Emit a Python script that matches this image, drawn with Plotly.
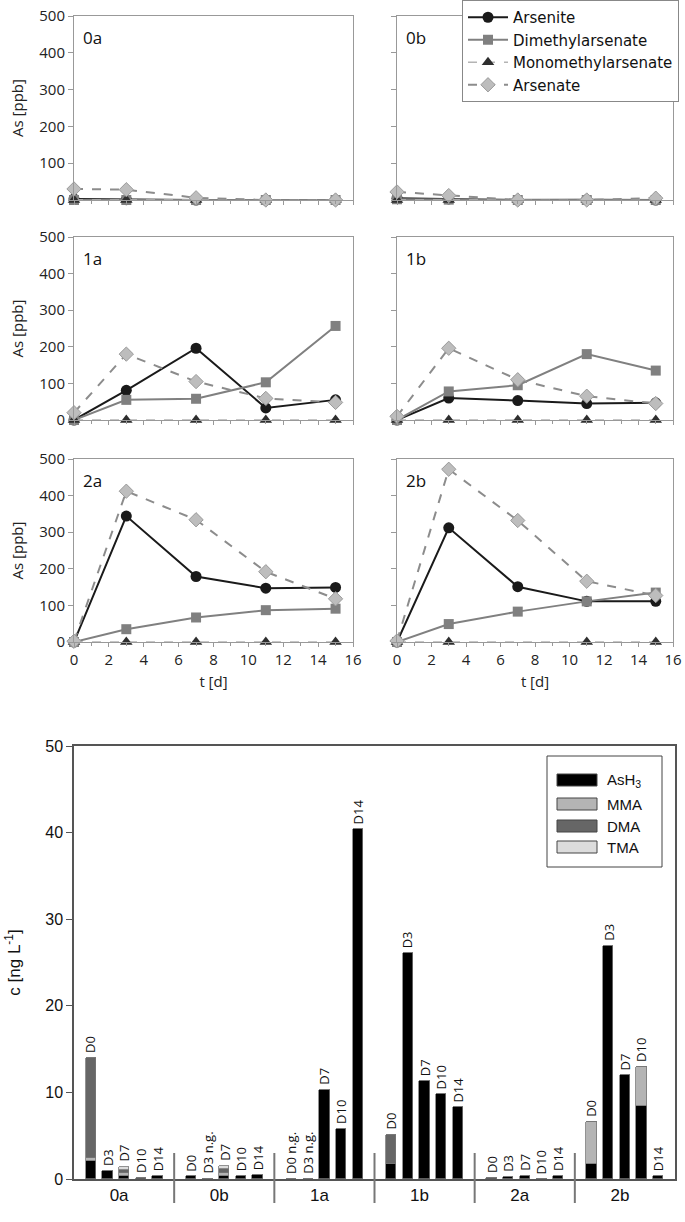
import plotly.graph_objects as go

# ---------------- data: top panels (As [ppb]) ----------------
t_days = [0, 3, 7, 11, 15]
panels = ["0a", "0b", "1a", "1b", "2a", "2b"]
arsenite = [
    [3, 1, 0, 0, 0],
    [5, 3, 0, 1, 0],
    [0, 81, 196, 33, 55],
    [0, 60, 53, 45, 47],
    [0, 344, 179, 147, 149],
    [0, 312, 151, 111, 111],
]
dimethylarsenate = [
    [0, 0, 0, 0, 0],
    [2, 1, 0, 0, 0],
    [0, 55, 58, 103, 257],
    [0, 78, 95, 180, 135],
    [0, 35, 67, 87, 91],
    [0, 49, 83, 111, 135],
]
monomethylarsenate = [
    [0, 0, 0, 0, 0],
    [0, 0, 0, 0, 0],
    [0, 0, 0, 0, 0],
    [0, 0, 0, 0, 0],
    [0, 0, 0, 0, 0],
    [0, 0, None, 0, 0],
]
arsenate = [
    [30, 28, 6, 0, 0],
    [22, 12, 0, 0, 5],
    [20, 180, 105, 59, 48],
    [10, 196, 110, 65, 45],
    [2, 412, 334, 192, 118],
    [3, 472, 332, 166, 127],
]

# ---------------- data: bottom bars (c [ng L-1]) ----------------
groups = ["0a", "0b", "1a", "1b", "2a", "2b"]
days = ["D0", "D3", "D7", "D10", "D14"]
ash3 = [2.1, 0.9, 0.4, 0.1, 0.3,
        0.3, 0.0, 0.4, 0.3, 0.45,
        0.0, 0.0, 10.3, 5.8, 40.4,
        1.7, 26.1, 11.3, 9.8, 8.3,
        0.1, 0.2, 0.4, 0.0, 0.3,
        1.7, 26.9, 12.0, 8.4, 0.3]
mma = [0.3, 0, 0.3, 0, 0,
       0, 0, 0.35, 0, 0,
       0, 0, 0, 0, 0,
       0, 0, 0, 0, 0,
       0, 0, 0, 0, 0,
       4.9, 0, 0, 4.5, 0]
dma = [11.6, 0, 0.3, 0, 0,
       0, 0, 0.35, 0, 0,
       0, 0, 0, 0, 0,
       3.4, 0, 0, 0, 0,
       0, 0, 0, 0, 0,
       0, 0, 0, 0, 0]
tma = [0, 0, 0.4, 0, 0,
       0, 0, 0.4, 0, 0,
       0, 0, 0, 0, 0,
       0, 0, 0, 0, 0,
       0, 0, 0, 0, 0,
       0, 0, 0, 0, 0]
not_detected = [False, False, False, False, False,
                False, True, False, False, False,
                True, True, False, False, False,
                False, False, False, False, False,
                False, False, False, False, False,
                False, False, False, False, False]

# ---------------- layout helpers ----------------
W, H = 685, 1222
def px_x(a, b):
    return [a / W, b / W]
def px_y(top, bottom):
    return [1 - bottom / H, 1 - top / H]

col_x = [px_x(74, 353), px_x(397, 673)]
row_y = [px_y(16, 200), px_y(237, 420), px_y(459, 642)]

TOPFONT = "Open Sans"
fig = go.Figure()

series = [
    ("Arsenite", arsenite, dict(color="#1a1a1a", width=2), dict(symbol="circle", size=11, color="#1a1a1a")),
    ("Dimethylarsenate", dimethylarsenate, dict(color="#808080", width=2), dict(symbol="square", size=10, color="#808080")),
    ("Monomethylarsenate", monomethylarsenate, dict(color="#b4b4b4", width=1.5, dash="dash"), dict(symbol="triangle-up", size=11, color="#2e2e2e")),
    ("Arsenate", arsenate, dict(color="#8c8c8c", width=2, dash="dash"), dict(symbol="diamond", size=11, color="#bdbdbd", line=dict(color="#9a9a9a", width=1))),
]

layout_axes = {}
annotations = []
for i, p in enumerate(panels):
    r, c = i // 2, i % 2
    k = i + 1
    xa = f"x{k}" if k > 1 else "x"
    ya = f"y{k}" if k > 1 else "y"
    for name, data, ln, mk in series:
        fig.add_trace(go.Scatter(
            x=t_days, y=data[i], name=name, mode="lines+markers",
            line=ln, marker=mk, xaxis=xa, yaxis=ya, cliponaxis=False,
            connectgaps=True, showlegend=(i == 0), legendgroup=name))
    xkey = "xaxis" if k == 1 else f"xaxis{k}"
    ykey = "yaxis" if k == 1 else f"yaxis{k}"
    xdef = dict(
        domain=col_x[c], anchor=ya, range=[0, 16], dtick=2, tick0=0, automargin=False,
        showticklabels=(r == 2), ticks="outside", ticklen=4, tickcolor="#999",
        showline=True, linecolor="#999", linewidth=1, mirror=True,
        showgrid=False, zeroline=False,
        minor=dict(dtick=1, ticks="outside", ticklen=3, tickcolor="#999", showgrid=False),
        tickfont=dict(family=TOPFONT, size=15, color="#222"),
    )
    if r == 2:
        xdef["title"] = dict(text="t [d]", font=dict(family=TOPFONT, size=15, color="#222"), standoff=8)
    ydef = dict(
        domain=row_y[r], anchor=xa, range=[0, 500], dtick=100, automargin=False,
        showticklabels=(c == 0), ticks="outside", ticklen=5, tickcolor="#999",
        showline=True, linecolor="#999", linewidth=1, mirror=True,
        showgrid=False, zeroline=False,
        tickfont=dict(family=TOPFONT, size=15, color="#222"),
    )
    if c == 0:
        ydef["title"] = dict(text="As [ppb]", font=dict(family=TOPFONT, size=15, color="#222"), standoff=12)
    layout_axes[xkey] = xdef
    layout_axes[ykey] = ydef
    annotations.append(dict(
        text=p, xref=f"{xa} domain", yref=f"{ya} domain", x=0.025, y=0.955,
        xanchor="left", yanchor="top", showarrow=False,
        font=dict(family=TOPFONT, size=17, color="#111")))

# ---------------- bottom bar chart ----------------
BOTFONT = "Liberation Sans"
n_days = len(days)
slot = n_days + 1
bar_x = [g * slot + 1 + d for g in range(len(groups)) for d in range(n_days)]
bar_style = [
    ("AsH3", ash3, "#000000"),
    ("MMA", mma, "#b4b4b4"),
    ("DMA", dma, "#666666"),
    ("TMA", tma, "#dcdcdc"),
]
for name, vals, col in bar_style:
    fig.add_trace(go.Bar(
        x=bar_x, y=vals, name=name, marker=dict(color=col, line=dict(color="#777", width=0.8)),
        width=0.62, xaxis="x7", yaxis="y7", showlegend=False))

totals = [a + b + c + d for a, b, c, d in zip(ash3, mma, dma, tma)]
for j, (xx, tot) in enumerate(zip(bar_x, totals)):
    lab = days[j % n_days] + (" n.g." if not_detected[j] else "")
    annotations.append(dict(
        text=lab, x=xx, y=tot, xref="x7", yref="y7", textangle=-90,
        xanchor="center", yanchor="bottom", yshift=3, showarrow=False,
        font=dict(family=TOPFONT, size=13, color="#111")))

xdom7 = px_x(74, 675)
ydom7 = px_y(746, 1179)
xrange7 = [0, len(groups) * slot]
layout_axes["xaxis7"] = dict(
    domain=xdom7, anchor="y7", range=xrange7, automargin=False,
    tickvals=[g * slot + 2.7 for g in range(len(groups))], ticktext=groups,
    ticks="", showline=True, linecolor="#555", linewidth=1.5, mirror=True,
    showgrid=False, zeroline=False,
    tickfont=dict(family=BOTFONT, size=17, color="#111"))
layout_axes["yaxis7"] = dict(
    domain=ydom7, anchor="x7", range=[0, 50], dtick=10, automargin=False,
    ticks="outside", ticklen=6, tickcolor="#555",
    showline=True, linecolor="#555", linewidth=1.5, mirror=True,
    showgrid=False, zeroline=False,
    tickfont=dict(family=BOTFONT, size=16, color="#111"),
    title=dict(text="c [ng L<sup>-1</sup>]", font=dict(family=BOTFONT, size=17, color="#111"), standoff=20))

shapes = []
# group separators (paper coords computed from the x axis mapping)
for g in range(1, len(groups)):
    xp = xdom7[0] + (g * slot - xrange7[0]) / (xrange7[1] - xrange7[0]) * (xdom7[1] - xdom7[0])
    shapes.append(dict(type="line", xref="paper", yref="paper", x0=xp, x1=xp,
                       y0=1 - 1203 / H, y1=1 - 1153 / H, line=dict(color="#777", width=2)))

# custom legend for bars
shapes.append(dict(type="rect", xref="paper", yref="paper",
                   x0=547 / W, x1=662 / W, y0=1 - 867 / H, y1=1 - 756 / H,
                   line=dict(color="#444", width=1), fillcolor="white"))
leg_y = [780, 804, 826, 847]
leg_text = ["AsH<sub>3</sub>", "MMA", "DMA", "TMA"]
for (name, vals, col), yy, txt in zip(bar_style, leg_y, leg_text):
    shapes.append(dict(type="rect", xref="paper", yref="paper",
                       x0=557 / W, x1=597 / W, y0=1 - (yy + 6) / H, y1=1 - (yy - 6) / H,
                       line=dict(color="#444", width=1), fillcolor=col))
    annotations.append(dict(text=txt, xref="paper", yref="paper", x=605 / W, y=1 - yy / H,
                            xanchor="left", yanchor="middle", showarrow=False,
                            font=dict(family=BOTFONT, size=15, color="#111")))

fig.update_layout(
    template="none",
    width=W, height=H, autosize=False,
    margin=dict(l=0, r=0, t=0, b=0, pad=0),
    paper_bgcolor="white", plot_bgcolor="white",
    barmode="stack", bargap=0,
    showlegend=True,
    legend=dict(x=462 / W, y=1.0, xanchor="left", yanchor="top",
                bgcolor="white", bordercolor="#888", borderwidth=1,
                font=dict(family="DejaVu Sans", size=15, color="#111"),
                tracegroupgap=0, itemwidth=40),
    annotations=annotations, shapes=shapes,
    **layout_axes,
)

fig.write_html(
    "out.html",
    config={"displayModeBar": False},
    post_script=(
        "var gd=document.getElementById('{plot_id}');"
        "gd.style.position='absolute';gd.style.top='0px';gd.style.left='0px';"
        "document.body.style.margin='0px';document.body.style.padding='0px';"
        "document.body.style.overflow='hidden';"
        "document.documentElement.style.overflow='hidden';"
    ),
)
